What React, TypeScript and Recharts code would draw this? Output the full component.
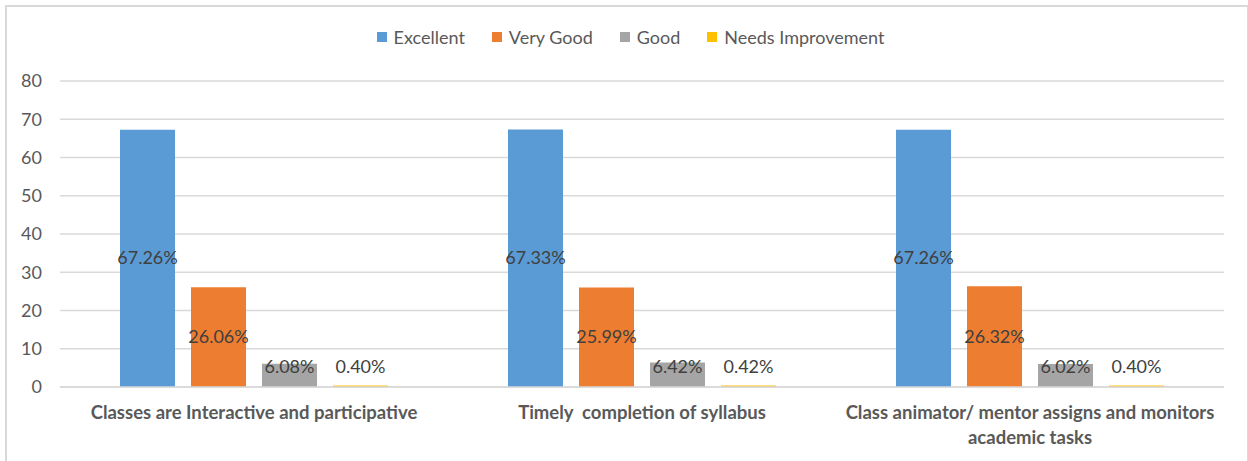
import { BarChart, Bar, XAxis, YAxis, CartesianGrid, Legend, LabelList } from 'recharts';

const categories = [
    'Classes are Interactive and participative',
    'Timely  completion of syllabus',
    'Class animator/ mentor assigns and monitors academic tasks',
];
const excellent = [67.26, 67.33, 67.26];
const veryGood = [26.06, 25.99, 26.32];
const good = [6.08, 6.42, 6.02];
const needsImprovement = [0.4, 0.42, 0.4];
const yTicks = [0, 10, 20, 30, 40, 50, 60, 70, 80];

const series = [
    { key: 'excellent', name: 'Excellent', color: '#5B9BD5' },
    { key: 'veryGood', name: 'Very Good', color: '#ED7D31' },
    { key: 'good', name: 'Good', color: '#A5A5A5' },
    { key: 'needs', name: 'Needs Improvement', color: '#FFC000' },
];

const data = categories.map((name, i) => ({
    name,
    excellent: excellent[i],
    veryGood: veryGood[i],
    good: good[i],
    needs: needsImprovement[i],
}));

const FONT = 'Lato, "DejaVu Sans", sans-serif';

// split a long category name into lines of at most maxChars
function wrap(text: string, maxChars: number) {
    if (text.length <= maxChars) return [text];
    const words = text.split(' ');
    const lines: string[] = [];
    let cur = '';
    words.forEach((w) => {
        const next = cur ? cur + ' ' + w : w;
        if (next.length > maxChars && cur) {
            lines.push(cur);
            cur = w;
        } else {
            cur = next;
        }
    });
    if (cur) lines.push(cur);
    return lines;
}

function CategoryTick(props: any) {
    const { x, y, payload } = props;
    const lines = wrap(payload.value, 45);
    return (
        <text
            x={x}
            y={y + 24}
            textAnchor="middle"
            fill="#595959"
            fontSize={18.5}
            fontWeight={700}
            fontFamily={FONT}
            style={{ whiteSpace: 'pre' }}
        >
            {lines.map((l, i) => (
                <tspan key={i} x={x} dy={i === 0 ? 0 : 25}>
                    {l}
                </tspan>
            ))}
        </text>
    );
}

function ValueLabel(props: any) {
    const { x, y, width, height, value } = props;
    const cy = Math.min(y + height / 2, y + height - 20);
    return (
        <text
            x={x + width / 2}
            y={cy}
            dy={6}
            textAnchor="middle"
            fill="#404040"
            fontSize={18}
            fontFamily={FONT}
        >
            {Number(value).toFixed(2)}%
        </text>
    );
}

function LegendContent() {
    return (
        <div
            style={{
                display: 'flex',
                justifyContent: 'center',
                height: 30,
                alignItems: 'center',
                fontFamily: FONT,
                fontSize: 18,
                color: '#595959',
            }}
        >
            {series.map((s) => (
                <div key={s.key} style={{ display: 'flex', alignItems: 'center', marginRight: 27 }}>
                    <span style={{ width: 10, height: 10, background: s.color, marginRight: 7 }} />
                    {s.name}
                </div>
            ))}
        </div>
    );
}

export default function App() {
    return (
        <div
            style={{
                position: 'absolute',
                left: 0,
                top: 0,
                width: 1248,
                height: 461,
                background: '#fff',
                overflow: 'hidden',
            }}
        >
            <div
                style={{
                    position: 'absolute',
                    left: 5,
                    top: 5,
                    width: 1240,
                    height: 470,
                    border: '2px solid #d9d9d9',
                }}
            />
            <BarChart
                width={1248}
                height={461}
                data={data}
                margin={{ top: 51, right: 24, bottom: 14, left: 6 }}
                barGap={16}
                barSize={55}
            >
                <CartesianGrid vertical={false} stroke="#d9d9d9" strokeWidth={1.5} />
                <XAxis
                    dataKey="name"
                    height={60}
                    tick={<CategoryTick />}
                    tickLine={false}
                    axisLine={{ stroke: '#d9d9d9', strokeWidth: 1.5 }}
                    interval={0}
                />
                <YAxis
                    width={54}
                    domain={[0, 80]}
                    ticks={yTicks}
                    axisLine={false}
                    tickLine={false}
                    tickSize={0}
                    tickMargin={18}
                    tick={{ fill: '#595959', fontSize: 18, fontFamily: FONT }}
                />
                <Legend
                    verticalAlign="top"
                    content={<LegendContent />}
                    wrapperStyle={{ top: 22, left: 20, width: 1248 }}
                />
                {series.map((s) => (
                    <Bar key={s.key} dataKey={s.key} name={s.name} fill={s.color} isAnimationActive={false}>
                        <LabelList dataKey={s.key} content={<ValueLabel />} />
                    </Bar>
                ))}
            </BarChart>
        </div>
    );
}
